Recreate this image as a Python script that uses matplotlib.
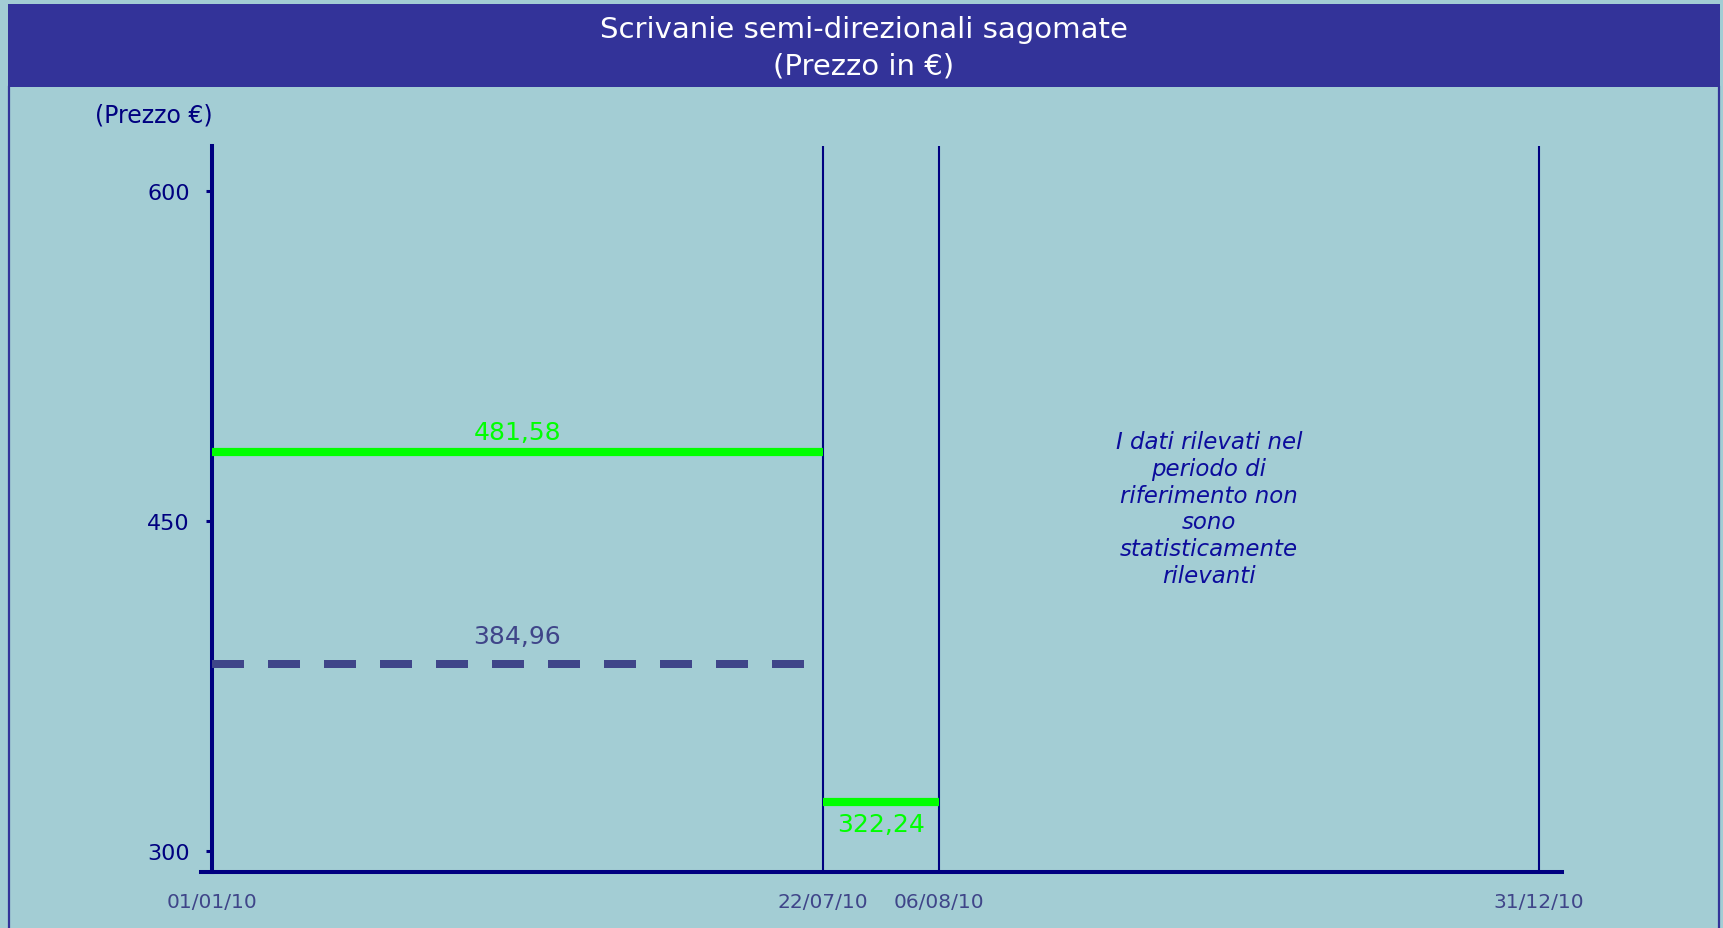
import matplotlib
matplotlib.use('Agg')
import matplotlib.pyplot as plt
from matplotlib.patches import Rectangle
from matplotlib.lines import Line2D

# dati del grafico
titolo = 'Scrivanie semi-direzionali sagomate\n(Prezzo in €)'
date_labels = ['01/01/10', '22/07/10', '06/08/10', '31/12/10']
date_pos = [0, 0.4604, 0.5479, 1.0]   # posizione dei confini dei periodi sull'asse
prezzo_periodi = [481.58, 322.24]     # linee verdi, una per periodo
prezzo_tratteggio = 384.96            # linea tratteggiata nel primo periodo
y_ticks = [300, 450, 600]
nota = 'I dati rilevati nel\nperiodo di\nriferimento non\nsono\nstatisticamente\nrilevanti'

BG = '#A3CDD4'
BANNER = '#333399'
NAVY = '#000080'
GREEN = '#00FF00'
DASH = '#3F4589'

W, H = 1724, 929


def fmt(v):
    return f'{v:.2f}'.replace('.', ',')


fig = plt.figure(figsize=(W / 100, H / 100), dpi=100, facecolor=BG)

# banner del titolo e cornice
fig.add_artist(Rectangle((8 / W, 1 - 88 / H), (1720 - 8) / W, 83 / H,
                         transform=fig.transFigure, facecolor=BANNER, edgecolor='none'))
for xp in [9, 1719]:
    fig.add_artist(Line2D([xp / W, xp / W], [0, 1 - 88 / H], transform=fig.transFigure,
                          color=BANNER, lw=1.6))
fig.text(864 / W, 1 - 48 / H, titolo, ha='center', va='center', color='white',
         fontsize=21, linespacing=1.38)
fig.text(154 / W, 1 - 115 / H, '(Prezzo €)', ha='center', va='center', color=NAVY, fontsize=17)

ax = fig.add_axes([201 / W, 1 - 873 / H, (1562 - 201) / W, (873 - 147) / H])
ax.set_facecolor('none')
ax.set_xlim(-11 / 1327, 1 + 23 / 1327)
ax.set_ylim(300 - 21 / 2.2, 600 + 45 / 2.2)

for s in ['top', 'right']:
    ax.spines[s].set_visible(False)
ax.spines['left'].set_position(('data', 0))
for s in ['left', 'bottom']:
    ax.spines[s].set_color(NAVY)
    ax.spines[s].set_linewidth(2.9)

ax.set_yticks(y_ticks)
ax.set_yticklabels([str(t) for t in y_ticks])
ax.tick_params(axis='y', colors=NAVY, labelsize=16, length=4, width=2.2, pad=12)
ax.set_xticks(date_pos)
ax.set_xticklabels(date_labels)
ax.tick_params(axis='x', length=0, labelsize=14.5, labelcolor=DASH, pad=14.6)

# linee verticali dei periodi
for xp in date_pos[1:]:
    ax.axvline(xp, color=NAVY, lw=1.5)

# prezzi per periodo
for i, v in enumerate(prezzo_periodi):
    x0, x1 = date_pos[i], date_pos[i + 1]
    ax.plot([x0, x1], [v, v], color=GREEN, lw=5.9, solid_capstyle='butt', zorder=3)
    off = 14 if i == 0 else -16
    ax.annotate(fmt(v), ((x0 + x1) / 2, v), xytext=(0, off), textcoords='offset points',
                ha='center', va='center', color=GREEN, fontsize=18)

ax.plot([date_pos[0], date_pos[1]], [prezzo_tratteggio, prezzo_tratteggio], color=DASH,
        lw=5.76, dashes=(4, 3), zorder=3)
ax.annotate(fmt(prezzo_tratteggio), ((date_pos[0] + date_pos[1]) / 2, prezzo_tratteggio),
            xytext=(0, 20), textcoords='offset points', ha='center', va='center',
            color=DASH, fontsize=18)

ax.text(0.7406, 0.5006, nota, transform=ax.transAxes, ha='center', va='center',
        color='#0C0C9C', fontsize=16.5, style='italic', linespacing=1.21)

fig.savefig('out.png', dpi=100, facecolor=BG)
